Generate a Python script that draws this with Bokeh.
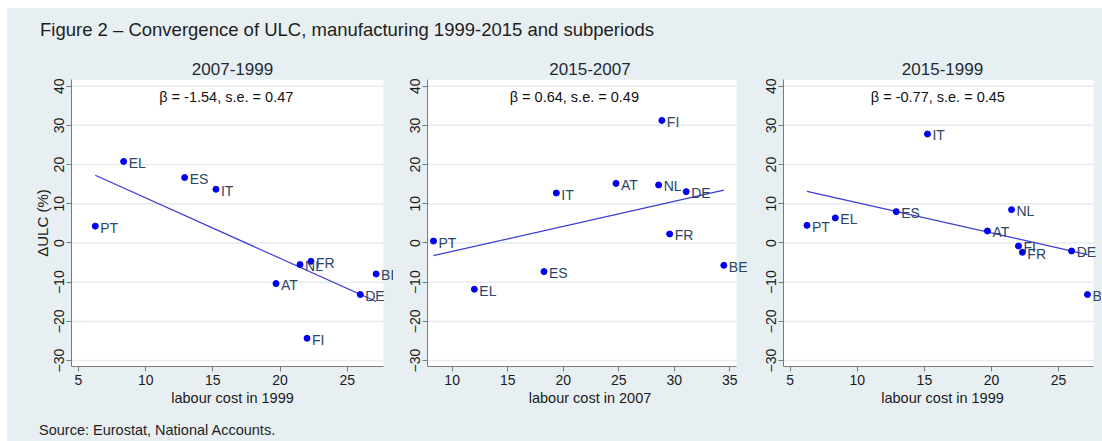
import numpy as np
from bokeh.plotting import figure
from bokeh.models import ColumnDataSource, LabelSet, Label, Range1d, FixedTicker, Div
from bokeh.layouts import row, column
from bokeh.core.properties import value
from bokeh.embed import file_html
from bokeh.resources import INLINE

# Country codes and values (labour cost in EUR/hour, change in ULC in %)
countries = ["AT", "BE", "DE", "EL", "ES", "FI", "FR", "IT", "NL", "PT"]
labour_cost_1999 = [19.7, 27.15, 25.97, 8.36, 12.9, 22.01, 22.3, 15.23, 21.49, 6.25]
labour_cost_2007 = [24.75, 34.46, 31.07, 12.0, 18.27, 28.88, 29.58, 19.38, 28.59, 8.32]
dulc_2007_1999 = [-10.35, -7.9, -13.15, 20.8, 16.7, -24.3, -4.66, 13.7, -5.5, 4.3]
dulc_2015_2007 = [15.2, -5.7, 13.1, -11.8, -7.3, 31.26, 2.3, 12.75, 14.8, 0.5]
dulc_2015_1999 = [3.06, -13.15, -2.04, 6.4, 8.0, -0.76, -2.37, 27.8, 8.5, 4.5]

panel_titles = ["2007-1999", "2015-2007", "2015-1999"]
x_titles = ["labour cost in 1999", "labour cost in 2007", "labour cost in 1999"]
betas = [-1.54, 0.64, -0.77]
std_errors = [0.47, 0.49, 0.45]
y_ticks = [-30, -20, -10, 0, 10, 20, 30, 40]
x_ticks_1999 = [5, 10, 15, 20, 25]
x_ticks_2007 = [10, 15, 20, 25, 30, 35]

BG = "#e7eff2"
FONT = "Liberation Sans"
POINT = "#0000f0"
LABEL = "#2b4566"
AXIS = "#7a7a7a"
Y_LO, Y_HI = -31.5, 41.7


def panel(xs, ys, title, xlabel, beta, se, xticks, xlim, beta_x,
          border_left, plot_w, extra_right, ylabel=None):
    # the white plot region covers xlim; the frame runs a little further
    # right so that point labels may spill over into the grey margin
    xlo, xhi = xlim
    x_end = xhi + extra_right * (xhi - xlo) / plot_w
    p = figure(output_backend="svg", toolbar_location=None,
               frame_width=plot_w + extra_right, frame_height=287,
               min_border_left=border_left, min_border_right=0,
               min_border_top=27, min_border_bottom=46,
               x_range=Range1d(xlo, x_end), y_range=Range1d(Y_LO, Y_HI),
               background_fill_color=BG, border_fill_color=BG,
               outline_line_color=None)
    p.title.text = title
    p.title.align = "center"
    p.title.text_font = FONT
    p.title.text_font_size = "17px"
    p.title.text_font_style = "normal"
    p.title.text_color = "#1f2a36"
    p.title.offset = -extra_right / 2

    p.xgrid.visible = False
    p.ygrid.visible = False

    for ax in (p.xaxis[0], p.yaxis[0]):
        ax.axis_line_color = AXIS
        ax.major_tick_line_color = AXIS
        ax.major_tick_out = 5
        ax.major_tick_in = 0
        ax.minor_tick_line_color = None
        ax.major_label_text_font = FONT
        ax.major_label_text_font_size = "14px"
        ax.major_label_text_color = "#1a1a1a"
        ax.axis_label_text_font = FONT
        ax.axis_label_text_font_style = "normal"
        ax.axis_label_text_color = "#1a1a1a"
    p.xaxis.ticker = FixedTicker(ticks=xticks)
    p.xaxis.bounds = (xlo, xhi)
    p.yaxis.ticker = FixedTicker(ticks=y_ticks)
    p.yaxis.major_label_orientation = "vertical"
    p.xaxis.major_label_standoff = 3
    p.yaxis.major_label_standoff = 2
    p.xaxis.axis_label = xlabel
    p.xaxis.axis_label_text_font_size = "14.5px"
    p.xaxis.axis_label_standoff = 2
    if ylabel:
        p.yaxis.axis_label = ylabel
        p.yaxis.axis_label_text_font_size = "15px"
        p.yaxis.axis_label_standoff = 1

    # white plot region and horizontal grid lines
    p.quad(left=xlo, right=xhi, bottom=Y_LO, top=Y_HI,
           fill_color="white", line_color=None)
    p.segment(x0=[xlo] * len(y_ticks), x1=[xhi] * len(y_ticks),
              y0=y_ticks, y1=y_ticks, line_color="#e5ecef", line_width=1.5)

    src = ColumnDataSource(dict(x=xs, y=ys, name=countries))

    # fitted line with the reported slope, through the sample means
    xa = np.array(xs)
    ya = np.array(ys)
    x_line = np.array([xa.min(), xa.max()])
    y_line = ya.mean() + beta * (x_line - xa.mean())
    p.line(x_line, y_line, line_color="#3a3ad6", line_width=1.2)

    p.scatter("x", "y", source=src, size=6, color=POINT)
    p.add_layout(LabelSet(x="x", y="y", text="name", source=src,
                          x_offset=5, y_offset=-1.5,
                          text_align="left", text_baseline="middle",
                          text_font=value(FONT), text_font_size=value("14px"),
                          text_color=LABEL))
    p.add_layout(Label(x=beta_x, y=37.2,
                       text=f"\u03b2 = {beta:.2f}, s.e. = {se:.2f}",
                       text_align="center", text_baseline="middle",
                       text_font=FONT, text_font_size="14.5px",
                       text_color="#111111"))
    return p


p1 = panel(labour_cost_1999, dulc_2007_1999, panel_titles[0], x_titles[0],
           betas[0], std_errors[0], x_ticks_1999, (4.48, 27.7), 16,
           64, 312, 10, ylabel="\u0394ULC (%)")
p2 = panel(labour_cost_2007, dulc_2015_2007, panel_titles[1], x_titles[1],
           betas[1], std_errors[1], x_ticks_2007, (7.78, 35.6), 21,
           34, 309, 16)
p3 = panel(labour_cost_1999, dulc_2015_1999, panel_titles[2], x_titles[2],
           betas[2], std_errors[2], x_ticks_1999, (4.5, 27.6), 16,
           31, 310, 8)

title = Div(text="Figure 2 \u2013 Convergence of ULC, manufacturing 1999-2015 and subperiods",
            width=1095, height=44, margin=(0, 0, 0, 0),
            styles={"font-family": FONT, "font-size": "18.5px", "color": "#1e1e1e",
                    "padding-top": "11px", "padding-left": "33px",
                    "line-height": "1.2", "white-space": "nowrap"})
source = Div(text="Source: Eurostat, National Accounts.",
             width=1095, height=29, margin=(0, 0, 0, 0),
             styles={"font-family": FONT, "font-size": "14.5px", "color": "#1e1e1e",
                     "padding-top": "10px", "padding-left": "32px",
                     "line-height": "1.2", "white-space": "nowrap"})

layout = column(title, row(p1, p2, p3, spacing=0), source, spacing=0,
                margin=(8, 0, 0, 7), styles={"background-color": BG},
                width=1095)

open("out.html", "w").write(file_html(layout, INLINE))
